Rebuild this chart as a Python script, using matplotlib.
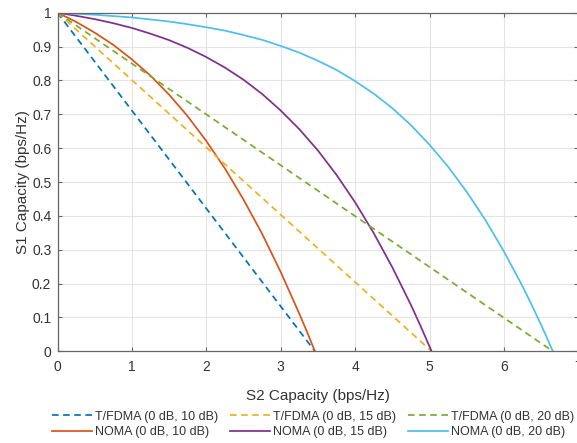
import matplotlib
matplotlib.use("Agg")
import matplotlib.pyplot as plt

plt.rcParams["font.family"] = ["Liberation Sans", "DejaVu Sans"]

# Achievable-rate regions: S2 capacity (x) vs S1 capacity (y), bps/Hz
tfdma10_x = [0.0, 3.459]
tfdma10_y = [1.0, 0.0]
tfdma15_x = [0.0, 5.028]
tfdma15_y = [1.0, 0.0]
tfdma20_x = [0.0, 6.658]
tfdma20_y = [1.0, 0.0]

noma10_x = [0.0, 0.25, 0.5, 0.75, 1.0, 1.25, 1.5, 1.75, 2.0, 2.25, 2.5, 2.75,
            3.0, 3.25, 3.375, 3.459]
noma10_y = [1.0, 0.973, 0.941, 0.905, 0.862, 0.814, 0.758, 0.694, 0.621, 0.540,
            0.448, 0.347, 0.234, 0.111, 0.046, 0.0]

noma15_x = [0.0, 0.25, 0.5, 0.75, 1.0, 1.25, 1.5, 1.75, 2.0, 2.25, 2.5, 2.75,
            3.0, 3.25, 3.5, 3.75, 4.0, 4.25, 4.5, 4.75, 4.875, 5.028]
noma15_y = [1.0, 0.991, 0.981, 0.969, 0.955, 0.938, 0.919, 0.896, 0.869, 0.838,
            0.802, 0.760, 0.711, 0.656, 0.593, 0.521, 0.440, 0.349, 0.248,
            0.137, 0.077, 0.0]

noma20_x = [0.0, 0.25, 0.5, 0.75, 1.0, 1.25, 1.5, 1.75, 2.0, 2.25, 2.5, 2.75,
            3.0, 3.25, 3.5, 3.75, 4.0, 4.25, 4.5, 4.75, 5.0, 5.25, 5.5, 5.75,
            6.0, 6.25, 6.375, 6.5, 6.658]
noma20_y = [1.0, 0.997, 0.994, 0.990, 0.986, 0.980, 0.974, 0.966, 0.957, 0.947,
            0.934, 0.920, 0.902, 0.882, 0.858, 0.831, 0.798, 0.761, 0.718,
            0.668, 0.610, 0.545, 0.471, 0.388, 0.295, 0.192, 0.136, 0.078, 0.0]

labels = ["T/FDMA (0 dB, 10 dB)", "NOMA (0 dB, 10 dB)",
          "T/FDMA (0 dB, 15 dB)", "NOMA (0 dB, 15 dB)",
          "T/FDMA (0 dB, 20 dB)", "NOMA (0 dB, 20 dB)"]

x_ticks = [0, 1, 2, 3, 4, 5, 6, 7]
y_ticks = [0, 0.1, 0.2, 0.3, 0.4, 0.5, 0.6, 0.7, 0.8, 0.9, 1]
y_tick_labels = ["0", "0.1", "0.2", "0.3", "0.4", "0.5", "0.6", "0.7", "0.8", "0.9", "1"]

colors = ["#0072BD", "#D95319", "#EDB120", "#7E2F8E", "#77AC30", "#4DBEEE"]
text_color = "#333333"
axis_color = "#666666"

fig = plt.figure(figsize=(5.77, 4.43), dpi=100)
ax = fig.add_axes([0.0997, 0.2070, 0.9026, 0.7643])

lw = 1.25
dash = (3.8, 2.6)
series = [
    (tfdma10_x, tfdma10_y, True),
    (noma10_x, noma10_y, False),
    (tfdma15_x, tfdma15_y, True),
    (noma15_x, noma15_y, False),
    (tfdma20_x, tfdma20_y, True),
    (noma20_x, noma20_y, False),
]
handles = []
for (xs, ys, dashed), c, lab in zip(series, colors, labels):
    if dashed:
        h, = ax.plot(xs, ys, color=c, lw=lw, dashes=dash, label=lab)
    else:
        h, = ax.plot(xs, ys, color=c, lw=lw, label=lab)
    handles.append(h)

ax.set_xlim(0, 7)
ax.set_ylim(0, 1)
ax.set_xticks(x_ticks)
ax.set_yticks(y_ticks)
ax.set_yticklabels(y_tick_labels)

ax.grid(True, color="#e4e4e4", lw=0.8)
ax.set_axisbelow(True)
for sp in ax.spines.values():
    sp.set_color(axis_color)
    sp.set_linewidth(0.9)
ax.tick_params(direction="in", length=3, width=0.8, color=axis_color,
               top=True, right=True, labelsize=10, labelcolor=text_color)
ax.tick_params(axis="y", pad=4.5)
ax.tick_params(axis="x", pad=6.5)

ax.set_xlabel("S2 Capacity (bps/Hz)", fontsize=11, color=text_color, va="center")
ax.set_ylabel("S1 Capacity (bps/Hz)", fontsize=11, color=text_color, va="center")
ax.xaxis.set_label_coords(0.5, -0.131)
ax.yaxis.set_label_coords(-0.0665, 0.5)

fig.legend(handles=handles, labels=labels, ncol=3, loc="center",
           bbox_to_anchor=(313 / 577, 0.042), frameon=False, fontsize=9,
           handlelength=3.2, handletextpad=0.25, columnspacing=0.95,
           labelspacing=0.25, borderpad=0.0, labelcolor=text_color)

fig.savefig("out.png", dpi=100)
